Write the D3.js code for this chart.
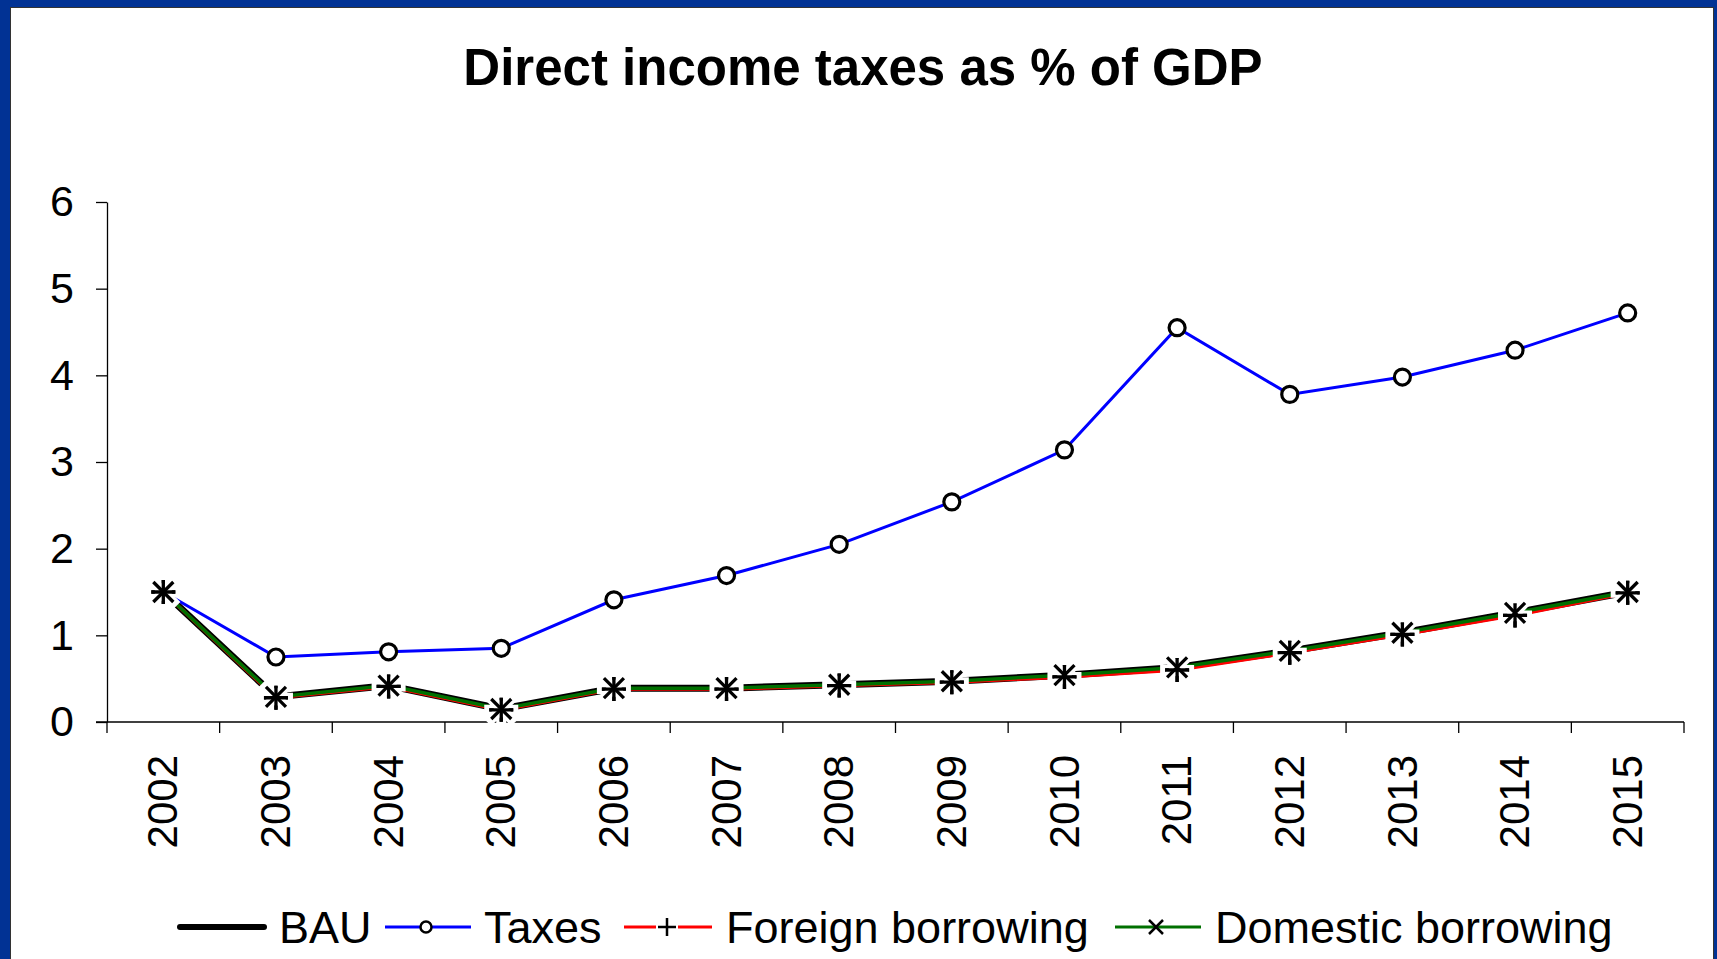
<!DOCTYPE html>
<html>
<head>
<meta charset="utf-8">
<script src="https://cdn.jsdelivr.net/npm/d3@7"></script>
<style>
  html, body { margin: 0; padding: 0; background: #fff; }
  svg { display: block; }
  text { font-family: "Liberation Sans", Arial, sans-serif; fill: #000; }
</style>
</head>
<body>
<svg id="chart" width="1717" height="959"></svg>
<script>
// Direct income taxes as % of GDP, by scenario
const years = ["2002","2003","2004","2005","2006","2007","2008","2009","2010","2011","2012","2013","2014","2015"];
const bau      = [1.50, 0.29, 0.42, 0.15, 0.39, 0.39, 0.43, 0.47, 0.54, 0.63, 0.82, 1.03, 1.26, 1.50];
const taxes    = [1.50, 0.75, 0.81, 0.85, 1.41, 1.69, 2.05, 2.54, 3.14, 4.55, 3.78, 3.98, 4.29, 4.72];
const foreign  = [1.50, 0.28, 0.41, 0.14, 0.38, 0.38, 0.42, 0.46, 0.52, 0.60, 0.80, 1.01, 1.23, 1.49];
const domestic = [1.50, 0.29, 0.42, 0.15, 0.39, 0.39, 0.43, 0.47, 0.54, 0.63, 0.82, 1.03, 1.26, 1.50];
const yTicks = [0, 1, 2, 3, 4, 5, 6];
const title = "Direct income taxes as % of GDP";
const seriesNames = ["BAU", "Taxes", "Foreign borrowing", "Domestic borrowing"];

const W = 1717, H = 959;
const svg = d3.select("#chart");

// slide frame
svg.append("rect").attr("x", 0).attr("y", 0).attr("width", W).attr("height", H).attr("fill", "#013294");
svg.append("rect").attr("x", 10.5).attr("y", 7.5).attr("width", 1703).attr("height", 960)
  .attr("fill", "#fff").attr("stroke", "#333").attr("stroke-width", 1);

const x = d3.scaleBand().domain(years).range([107, 1684]);
const y = d3.scaleLinear().domain([0, 6]).range([722, 202]);
const cx = d => x(d) + x.bandwidth() / 2;

// title
svg.append("text").attr("x", 863).attr("y", 85).attr("text-anchor", "middle")
  .attr("font-size", 51).attr("font-weight", "bold").text(title);

// y axis
const yAxis = d3.axisLeft(y).tickValues(yTicks).tickFormat(d3.format("d"))
  .tickSize(11).tickSizeOuter(0).tickPadding(22);
const gy = svg.append("g").attr("transform", "translate(107,0)").call(yAxis);
gy.select(".domain").attr("stroke", "#000").attr("stroke-width", 1.3);
gy.selectAll(".tick line").attr("stroke", "#000").attr("stroke-width", 1.3);
gy.selectAll(".tick text").attr("font-size", 43).attr("font-family", "Liberation Sans, Arial, sans-serif").attr("fill", "#000");
gy.append("line").attr("x1", 0).attr("x2", 0).attr("y1", 722).attr("y2", 733).attr("stroke", "#000").attr("stroke-width", 1.3);

// x axis: line with ticks at category boundaries
const gx = svg.append("g");
gx.append("line").attr("x1", 96).attr("x2", x.range()[1]).attr("y1", y(0)).attr("y2", y(0))
  .attr("stroke", "#000").attr("stroke-width", 1.3);
const bounds = years.map(d => x(d)).concat([x.range()[1]]);
gx.selectAll("line.tk").data(bounds.slice(1)).join("line").attr("class", "tk")
  .attr("x1", d => d).attr("x2", d => d).attr("y1", y(0)).attr("y2", y(0) + 11)
  .attr("stroke", "#000").attr("stroke-width", 1.3);
gx.selectAll("text").data(years).join("text")
  .attr("transform", d => `translate(${cx(d) - 1},755) rotate(-90)`)
  .attr("text-anchor", "end").attr("dy", "0.36em").attr("font-size", 42).text(d => d);

const line = d3.line().x((v, i) => cx(years[i])).y(v => y(v));

// series lines
svg.append("path").attr("d", line(bau)).attr("fill", "none").attr("stroke", "#000").attr("stroke-width", 7).attr("stroke-linejoin", "round");
svg.append("path").attr("d", line(taxes)).attr("fill", "none").attr("stroke", "#0000ff").attr("stroke-width", 3);
svg.append("path").attr("d", line(foreign)).attr("fill", "none").attr("stroke", "#ff0000").attr("stroke-width", 3.5);
svg.append("path").attr("d", line(domestic)).attr("fill", "none").attr("stroke", "#007000").attr("stroke-width", 3.5);

// markers
function circleMarker(g, px, py, r) {
  g.append("circle").attr("cx", px).attr("cy", py).attr("r", r)
    .attr("fill", "#fff").attr("stroke", "#000").attr("stroke-width", 3.2);
}
function plusPath(px, py, s) { return `M${px - s},${py}L${px + s},${py}M${px},${py - s}L${px},${py + s}`; }
function crossPath(px, py, s) { return `M${px - s},${py - s}L${px + s},${py + s}M${px - s},${py + s}L${px + s},${py - s}`; }
function markGlyph(g, d, halo) {
  if (halo) g.append("path").attr("d", d).attr("stroke", "#fff").attr("stroke-width", 10).attr("stroke-linecap", "square");
  g.append("path").attr("d", d).attr("stroke", "#000").attr("stroke-width", 3.3);
}

const gm = svg.append("g");
taxes.forEach((v, i) => circleMarker(gm, cx(years[i]), y(v), 8));
const gs = svg.append("g");
foreign.forEach((v, i) => markGlyph(gs, plusPath(cx(years[i]), y(v), 12), true));
domestic.forEach((v, i) => markGlyph(gs, crossPath(cx(years[i]), y(v), 10), true));
foreign.forEach((v, i) => markGlyph(gs, plusPath(cx(years[i]), y(v), 12), false));

// legend
const ly = 927;
const fs = 45;
const lg = svg.append("g");
lg.append("line").attr("x1", 180).attr("x2", 264).attr("y1", ly).attr("y2", ly)
  .attr("stroke", "#000").attr("stroke-width", 6).attr("stroke-linecap", "round");
lg.append("text").attr("x", 279).attr("y", ly + 16).attr("font-size", fs).text(seriesNames[0]);

lg.append("line").attr("x1", 385).attr("x2", 471).attr("y1", ly).attr("y2", ly).attr("stroke", "#0000ff").attr("stroke-width", 3);
lg.append("circle").attr("cx", 426).attr("cy", ly).attr("r", 5.5).attr("fill", "#fff").attr("stroke", "#000").attr("stroke-width", 2.5);
lg.append("text").attr("x", 484).attr("y", ly + 16).attr("font-size", fs).text(seriesNames[1]);

lg.append("line").attr("x1", 624).attr("x2", 712).attr("y1", ly).attr("y2", ly).attr("stroke", "#ff0000").attr("stroke-width", 3);
lg.append("path").attr("d", plusPath(667, ly, 11)).attr("stroke", "#fff").attr("stroke-width", 8);
lg.append("path").attr("d", plusPath(667, ly, 9)).attr("stroke", "#000").attr("stroke-width", 2.5);
lg.append("text").attr("x", 726).attr("y", ly + 16).attr("font-size", fs).text(seriesNames[2]);

lg.append("line").attr("x1", 1115).attr("x2", 1201).attr("y1", ly).attr("y2", ly).attr("stroke", "#007000").attr("stroke-width", 3);
lg.append("path").attr("d", crossPath(1156, ly, 7)).attr("stroke", "#000").attr("stroke-width", 2.5);
lg.append("text").attr("x", 1215).attr("y", ly + 16).attr("font-size", fs).text(seriesNames[3]);
</script>
</body>
</html>
